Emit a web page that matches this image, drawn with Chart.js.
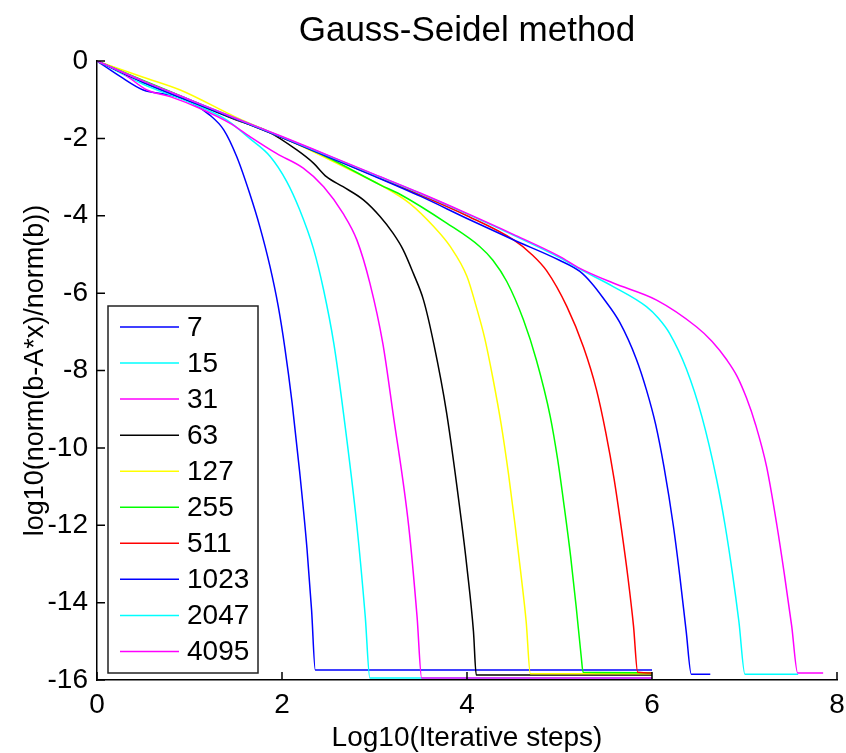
<!DOCTYPE html>
<html>
<head>
<meta charset="utf-8">
<title>Gauss-Seidel method</title>
<script src="https://cdn.jsdelivr.net/npm/chart.js@4.4.1/dist/chart.umd.min.js"></script>
<style>
  html, body { margin: 0; padding: 0; background: #fff; }
  #wrap { width: 846px; height: 753px; }
</style>
</head>
<body>
<div id="wrap"><canvas id="gs-chart" width="846" height="753"></canvas></div>
<script>
// ---- data ----
const sizes = ['7', '15', '31', '63', '127', '255', '511', '1023', '2047', '4095'];
const colors = ['#0000ff', '#00ffff', '#ff00ff', '#000000', '#ffff00', '#00ff00', '#ff0000', '#0000ff', '#00ffff', '#ff00ff'];

const xTicks = [0, 2, 4, 6, 8];
const yTicks = [0, -2, -4, -6, -8, -10, -12, -14, -16];

// log10(iterative steps) / log10(relative residual), one pair per curve
const x7 = [0, 0.25, 0.5, 0.79, 1.0, 1.22, 1.37, 1.51, 1.65, 1.76, 1.87, 1.96, 2.03, 2.11, 2.19, 2.27, 2.32, 2.36, 6.0];
const y7 = [0, -0.4, -0.75, -0.88, -1.05, -1.40, -1.78, -2.47, -3.42, -4.28, -5.31, -6.35, -7.4, -8.85, -10.6, -12.6, -14.2, -15.74, -15.74];

const x15 = [0, 0.5, 1.0, 1.4, 1.65, 1.87, 2.05, 2.19, 2.34, 2.45, 2.56, 2.66, 2.81, 2.90, 2.95, 6.0];
const y15 = [0, -0.6, -1.07, -1.52, -2.0, -2.46, -3.11, -3.84, -4.85, -5.92, -7.3, -9.02, -12.02, -14.36, -15.95, -15.95];

const x31 = [0, 0.28, 0.54, 0.79, 1.11, 1.44, 1.65, 1.94, 2.23, 2.45, 2.66, 2.81, 2.95, 3.09, 3.20, 3.37, 3.46, 3.51, 6.0];
const y31 = [0, -0.32, -0.75, -0.92, -1.22, -1.61, -1.95, -2.39, -2.77, -3.25, -3.94, -4.63, -5.74, -7.3, -9.10, -12.03, -14.36, -15.95, -15.95];

const x63 = [0, 0.5, 1.0, 1.5, 1.83, 2.16, 2.34, 2.48, 2.66, 2.88, 3.06, 3.20, 3.31, 3.42, 3.53, 3.64, 3.78, 3.94, 4.0, 4.07, 4.10, 6.0];
const y63 = [0, -0.55, -1.03, -1.52, -1.80, -2.30, -2.64, -2.99, -3.25, -3.59, -4.02, -4.45, -4.88, -5.49, -6.18, -7.3, -9.10, -11.9, -13.1, -14.75, -15.87, -15.87];

const x127 = [0, 0.5, 0.9, 1.5, 2.0, 2.30, 2.74, 3.10, 3.38, 3.64, 3.82, 4.0, 4.10, 4.19, 4.28, 4.37, 4.45, 4.52, 4.58, 4.64, 4.685, 6.0];
const y127 = [0, -0.42, -0.75, -1.45, -1.97, -2.30, -2.82, -3.25, -3.68, -4.28, -4.80, -5.57, -6.35, -7.15, -8.2, -9.4, -10.7, -12.0, -13.2, -14.5, -15.84, -15.84];

const x255 = [0, 0.5, 1.0, 1.5, 2.0, 2.5, 3.06, 3.28, 3.78, 4.14, 4.28, 4.43, 4.61, 4.75, 4.90, 4.98, 5.05, 5.12, 5.18, 5.235, 5.255, 6.0];
const y255 = [0, -0.5, -1.0, -1.5, -1.98, -2.5, -3.20, -3.45, -4.19, -4.80, -5.15, -5.7, -6.69, -7.73, -9.19, -10.3, -11.5, -12.8, -14.1, -15.4, -15.8, -15.81];

const x511 = [0, 0.5, 1.0, 1.5, 2.0, 2.5, 3.0, 3.5, 4.0, 4.5, 4.7, 4.86, 5.08, 5.26, 5.40, 5.50, 5.59, 5.67, 5.74, 5.80, 5.845, 6.0];
const y511 = [0, -0.52, -1.0, -1.5, -1.98, -2.47, -2.97, -3.47, -4.0, -4.62, -5.0, -5.42, -6.35, -7.4, -8.5, -9.6, -10.8, -12.1, -13.35, -14.6, -15.8, -15.82];

const x1023 = [0, 0.5, 1.0, 1.5, 2.0, 2.5, 3.0, 3.5, 4.0, 4.5, 5.0, 5.22, 5.35, 5.47, 5.65, 5.83, 5.94, 6.04, 6.13, 6.23, 6.30, 6.37, 6.425, 6.63];
const y1023 = [0, -0.55, -1.03, -1.5, -1.98, -2.48, -2.98, -3.5, -4.07, -4.62, -5.15, -5.44, -5.75, -6.12, -6.75, -7.7, -8.5, -9.4, -10.5, -12.0, -13.3, -14.75, -15.85, -15.85];

const x2047 = [0, 0.5, 1.0, 1.5, 2.0, 2.5, 3.0, 3.5, 4.0, 4.5, 5.0, 5.22, 5.58, 5.94, 6.07, 6.19, 6.37, 6.54, 6.70, 6.79, 6.87, 6.94, 7.005, 7.58];
const y2047 = [0, -0.52, -1.0, -1.48, -1.96, -2.45, -2.94, -3.43, -3.95, -4.5, -5.08, -5.38, -5.83, -6.35, -6.65, -7.04, -7.95, -9.2, -10.83, -12.0, -13.25, -14.5, -15.85, -15.85];

const x4095 = [0, 0.5, 1.0, 1.5, 2.0, 2.5, 3.0, 3.5, 4.0, 4.5, 5.0, 5.22, 5.58, 6.05, 6.48, 6.65, 6.81, 6.92, 7.02, 7.12, 7.24, 7.35, 7.43, 7.51, 7.575, 7.85];
const y4095 = [0, -0.52, -1.0, -1.48, -1.95, -2.44, -2.93, -3.42, -3.94, -4.48, -5.05, -5.36, -5.74, -6.18, -6.87, -7.25, -7.73, -8.15, -8.7, -9.4, -10.5, -12.0, -13.25, -14.6, -15.82, -15.82];

const xs = [x7, x15, x31, x63, x127, x255, x511, x1023, x2047, x4095];
const ys = [y7, y15, y31, y63, y127, y255, y511, y1023, y2047, y4095];

const FONT = "Arial, 'Liberation Sans', Helvetica, sans-serif";

// matlab-like ticks pointing into the plot
const inwardTicks = {
  id: 'inwardTicks',
  afterDatasetsDraw(chart) {
    const { ctx, chartArea, scales } = chart;
    ctx.save();
    ctx.strokeStyle = '#000';
    ctx.lineWidth = 1.5;
    ctx.beginPath();
    xTicks.forEach(v => {
      const px = scales.x.getPixelForValue(v);
      ctx.moveTo(px, chartArea.bottom);
      ctx.lineTo(px, chartArea.bottom - 8);
    });
    yTicks.forEach(v => {
      const py = scales.y.getPixelForValue(v);
      ctx.moveTo(chartArea.left, py);
      ctx.lineTo(chartArea.left + 8, py);
    });
    ctx.stroke();
    ctx.restore();
  }
};

// legend box sitting inside the axes, lower left
const boxLegend = {
  id: 'boxLegend',
  afterDraw(chart) {
    const { ctx, chartArea } = chart;
    const left = chartArea.left + 11, top = chartArea.top + 245;
    const w = 150, h = 367, step = 36.05;
    ctx.save();
    ctx.fillStyle = '#fff';
    ctx.fillRect(left, top, w, h);
    ctx.strokeStyle = '#222';
    ctx.lineWidth = 1.5;
    ctx.strokeRect(left, top, w, h);
    ctx.font = '28px ' + FONT;
    ctx.textBaseline = 'middle';
    ctx.textAlign = 'left';
    chart.data.datasets.forEach((ds, i) => {
      const cy = top + 21 + i * step;
      ctx.strokeStyle = ds.borderColor;
      ctx.lineWidth = 1.5;
      ctx.beginPath();
      ctx.moveTo(left + 12, cy);
      ctx.lineTo(left + 71, cy);
      ctx.stroke();
      ctx.fillStyle = '#000';
      ctx.fillText(ds.label, left + 79, cy + 1);
    });
    ctx.restore();
  }
};

const datasets = sizes.map((s, i) => ({
  label: s,
  data: xs[i].map((x, j) => ({ x: x, y: ys[i][j] })),
  borderColor: colors[i],
  backgroundColor: colors[i],
  borderWidth: 1.5,
  pointRadius: 0,
  cubicInterpolationMode: 'monotone',
  fill: false,
  order: sizes.length - i
}));

new Chart(document.getElementById('gs-chart'), {
  type: 'line',
  data: { datasets: datasets },
  options: {
    responsive: false,
    animation: false,
    layout: { padding: { left: 0, right: 9, top: 0, bottom: 0 } },
    plugins: {
      legend: { display: false },
      tooltip: { enabled: false },
      title: {
        display: true,
        fullSize: false,
        text: 'Gauss-Seidel method',
        color: '#000',
        font: { family: FONT, size: 35, weight: 'normal' },
        padding: { top: 10, bottom: 9 }
      }
    },
    scales: {
      x: {
        type: 'linear',
        min: 0, max: 8,
        afterFit: s => { s.height = 73; s.paddingLeft = 0; s.paddingRight = 0; },
        afterBuildTicks: s => { s.ticks = xTicks.map(v => ({ value: v })); },
        grid: { display: true, drawOnChartArea: false, drawTicks: false },
        border: { display: true, color: '#000', width: 1.5 },
        ticks: { color: '#000', padding: 8, font: { family: FONT, size: 28 } },
        title: {
          display: true,
          text: 'Log10(Iterative steps)',
          color: '#000',
          font: { family: FONT, size: 28, lineHeight: 1 },
          padding: { top: 0, bottom: 1 }
        }
      },
      y: {
        type: 'linear',
        min: -16, max: 0,
        afterFit: s => { s.width = 97; },
        afterBuildTicks: s => { s.ticks = yTicks.map(v => ({ value: v })); },
        grid: { display: true, drawOnChartArea: false, drawTicks: false },
        border: { display: true, color: '#000', width: 1.5 },
        ticks: { color: '#000', padding: 9, font: { family: FONT, size: 28 } },
        title: {
          display: true,
          text: 'log10(norm(b-A*x)/norm(b))',
          color: '#000',
          font: { family: FONT, size: 27 },
          padding: { top: 19, bottom: 0 }
        }
      }
    }
  },
  plugins: [inwardTicks, boxLegend]
});
</script>
</body>
</html>
